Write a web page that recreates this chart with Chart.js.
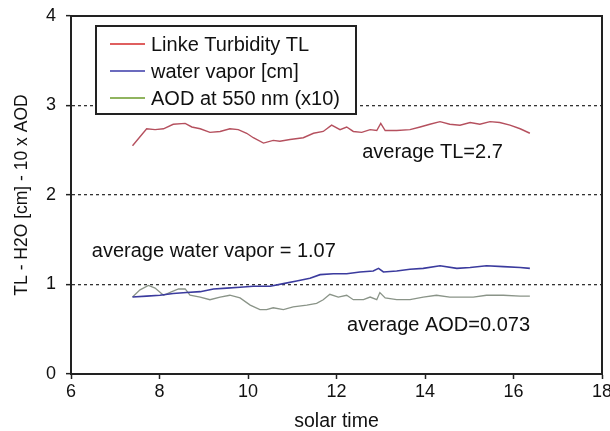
<!DOCTYPE html>
<html lang="en">
<head>
    <meta charset="UTF-8">
    <title>TL - H2O - AOD</title>
    <script src="https://cdn.jsdelivr.net/npm/chart.js"></script>
    <style>
        body {
            margin: 0;
            background: #fff;
        }
        #wrap {
            width: 610px;
            height: 431px;
        }
    </style>
</head>
<body>
    <div id="wrap">
        <canvas id="chart" width="610" height="431"></canvas>
    </div>

    <script>
        // Linke turbidity TL
        const tlTime = [7.39, 7.71, 7.9, 8.09, 8.31, 8.58, 8.73, 8.92, 9.14, 9.37, 9.59, 9.78, 9.97, 10.12, 10.35,
            10.57, 10.72, 10.95, 11.25, 11.48, 11.7, 11.89, 12.08, 12.23, 12.38, 12.57, 12.76, 12.91, 13.0, 13.1,
            13.36, 13.66, 13.89, 14.11, 14.34, 14.56, 14.79, 15.02, 15.24, 15.47, 15.69, 15.92, 16.15, 16.37];
        const tlValues = [2.55, 2.74, 2.73, 2.74, 2.79, 2.80, 2.76, 2.74, 2.70, 2.71, 2.74, 2.73, 2.69, 2.64, 2.58,
            2.61, 2.60, 2.62, 2.64, 2.69, 2.71, 2.78, 2.73, 2.76, 2.71, 2.70, 2.73, 2.72, 2.80, 2.72,
            2.72, 2.73, 2.76, 2.79, 2.82, 2.79, 2.78, 2.81, 2.79, 2.82, 2.81, 2.78, 2.74, 2.69];

        // water vapor [cm]
        const wvTime = [7.39, 7.71, 8.01, 8.31, 8.61, 8.92, 9.22, 9.52, 9.82, 10.12, 10.5, 10.8, 11.1, 11.4, 11.63,
            11.93, 12.23, 12.53, 12.83, 12.95, 13.06, 13.36, 13.66, 13.96, 14.34, 14.72, 15.02, 15.39, 15.77, 16.15, 16.37];
        const wvValues = [0.86, 0.87, 0.88, 0.90, 0.91, 0.92, 0.95, 0.96, 0.97, 0.98, 0.98, 1.01, 1.04, 1.07, 1.11,
            1.12, 1.12, 1.14, 1.15, 1.18, 1.14, 1.15, 1.17, 1.18, 1.21, 1.18, 1.19, 1.21, 1.20, 1.19, 1.18];

        // AOD at 550 nm (x10)
        const aodTime = [7.39, 7.56, 7.75, 7.9, 8.09, 8.28, 8.43, 8.58, 8.69, 8.92, 9.14, 9.37, 9.59, 9.82, 10.05,
            10.27, 10.42, 10.57, 10.8, 11.02, 11.33, 11.55, 11.7, 11.85, 12.04, 12.23, 12.38, 12.61, 12.76, 12.91,
            12.98, 13.1, 13.36, 13.66, 13.96, 14.26, 14.56, 14.79, 15.09, 15.39, 15.77, 16.15, 16.37];
        const aodValues = [0.86, 0.94, 0.99, 0.96, 0.88, 0.92, 0.95, 0.95, 0.88, 0.86, 0.83, 0.86, 0.88, 0.85, 0.77,
            0.72, 0.72, 0.74, 0.72, 0.75, 0.77, 0.79, 0.83, 0.89, 0.86, 0.88, 0.83, 0.83, 0.86, 0.83,
            0.91, 0.85, 0.83, 0.83, 0.86, 0.88, 0.86, 0.86, 0.86, 0.88, 0.88, 0.87, 0.87];

        const seriesLabels = ['Linke Turbidity TL', 'water vapor [cm]', 'AOD at 550 nm (x10)'];
        const xTicks = [6, 8, 10, 12, 14, 16, 18];
        const yTicks = [0, 1, 2, 3, 4];

        // text notes placed at data coordinates (left edge, vertical middle)
        const notes = [
            { text: 'average TL=2.7', x: 12.58, y: 2.48 },
            { text: 'average water vapor = 1.07', x: 6.47, y: 1.37 },
            { text: 'average AOD=0.073', x: 12.24, y: 0.54 }
        ];

        const FONT = "'Liberation Sans', Arial, sans-serif";

        function toPoints(xs, ys) {
            return xs.map((x, i) => ({ x: x, y: ys[i] }));
        }

        // frame, legend box and notes
        const extras = {
            id: 'extras',
            afterDraw(chart) {
                const ctx = chart.ctx;
                const a = chart.chartArea;
                const xs = chart.scales.x;
                const ys = chart.scales.y;
                ctx.save();

                ctx.strokeStyle = '#222';
                ctx.lineWidth = 2;
                ctx.strokeRect(a.left, a.top, a.right - a.left, a.bottom - a.top);

                // notes
                ctx.fillStyle = '#111';
                ctx.font = '20px ' + FONT;
                ctx.textBaseline = 'middle';
                ctx.textAlign = 'left';
                notes.forEach(n => {
                    ctx.fillText(n.text, xs.getPixelForValue(n.x), ys.getPixelForValue(n.y));
                });

                // legend
                const box = { left: 96, top: 26, width: 260, height: 88 };
                ctx.fillStyle = '#fff';
                ctx.fillRect(box.left, box.top, box.width, box.height);
                ctx.strokeStyle = '#222';
                ctx.lineWidth = 2;
                ctx.strokeRect(box.left, box.top, box.width, box.height);
                const swatch = ['#d42a2a', '#3a3aa8', '#6b9b2a'];
                ctx.font = '20px ' + FONT;
                seriesLabels.forEach((label, i) => {
                    const cy = box.top + 18 + i * 27;
                    ctx.strokeStyle = swatch[i];
                    ctx.lineWidth = 1.5;
                    ctx.beginPath();
                    ctx.moveTo(110, cy);
                    ctx.lineTo(145, cy);
                    ctx.stroke();
                    ctx.fillStyle = '#111';
                    ctx.fillText(label, 151, cy + 1);
                });
                ctx.restore();
            }
        };

        new Chart(document.getElementById('chart'), {
            type: 'line',
            data: {
                datasets: [
                    {
                        label: seriesLabels[0],
                        data: toPoints(tlTime, tlValues),
                        borderColor: '#b5505e',
                        borderWidth: 1.4
                    },
                    {
                        label: seriesLabels[1],
                        data: toPoints(wvTime, wvValues),
                        borderColor: '#3b3b9e',
                        borderWidth: 1.6
                    },
                    {
                        label: seriesLabels[2],
                        data: toPoints(aodTime, aodValues),
                        borderColor: '#8a9488',
                        borderWidth: 1.3
                    }
                ]
            },
            options: {
                responsive: false,
                animation: false,
                elements: {
                    point: { radius: 0 },
                    line: { tension: 0 }
                },
                layout: {
                    padding: { top: 16, right: 8, left: 0, bottom: 0 }
                },
                plugins: {
                    legend: { display: false },
                    tooltip: { enabled: false }
                },
                scales: {
                    x: {
                        type: 'linear',
                        min: 6,
                        max: 18,
                        afterBuildTicks: s => { s.ticks = xTicks.map(v => ({ value: v })); },
                        afterFit: s => { s.height = 57; s.paddingLeft = 0; s.paddingRight = 0; },
                        grid: {
                            drawOnChartArea: false,
                            tickLength: 5,
                            tickColor: '#222',
                            tickWidth: 1.5
                        },
                        border: { color: '#222', width: 2 },
                        ticks: {
                            color: '#111',
                            padding: 2,
                            font: { family: FONT, size: 18 }
                        },
                        title: {
                            display: true,
                            text: 'solar time',
                            color: '#111',
                            padding: { top: 0, bottom: -2 },
                            font: { family: FONT, size: 19.5 }
                        }
                    },
                    y: {
                        min: 0,
                        max: 4,
                        afterBuildTicks: s => { s.ticks = yTicks.map(v => ({ value: v })); },
                        afterFit: s => { s.width = 71; s.paddingTop = 0; s.paddingBottom = 0; },
                        grid: {
                            color: c => (c.tick && (c.tick.value === 0 || c.tick.value === 4)) ? 'rgba(0,0,0,0)' : '#333',
                            lineWidth: 1.3,
                            tickLength: 5,
                            tickColor: '#222',
                            tickWidth: 1.5,
                            tickBorderDash: []
                        },
                        border: { color: '#222', width: 2, dash: [3, 3] },
                        ticks: {
                            color: '#111',
                            padding: 10,
                            font: { family: FONT, size: 18 }
                        },
                        title: {
                            display: true,
                            text: 'TL - H2O [cm] - 10 x AOD',
                            color: '#111',
                            padding: { top: 12, bottom: 0 },
                            font: { family: FONT, size: 17.5 }
                        }
                    }
                }
            },
            plugins: [extras]
        });
    </script>
</body>
</html>
